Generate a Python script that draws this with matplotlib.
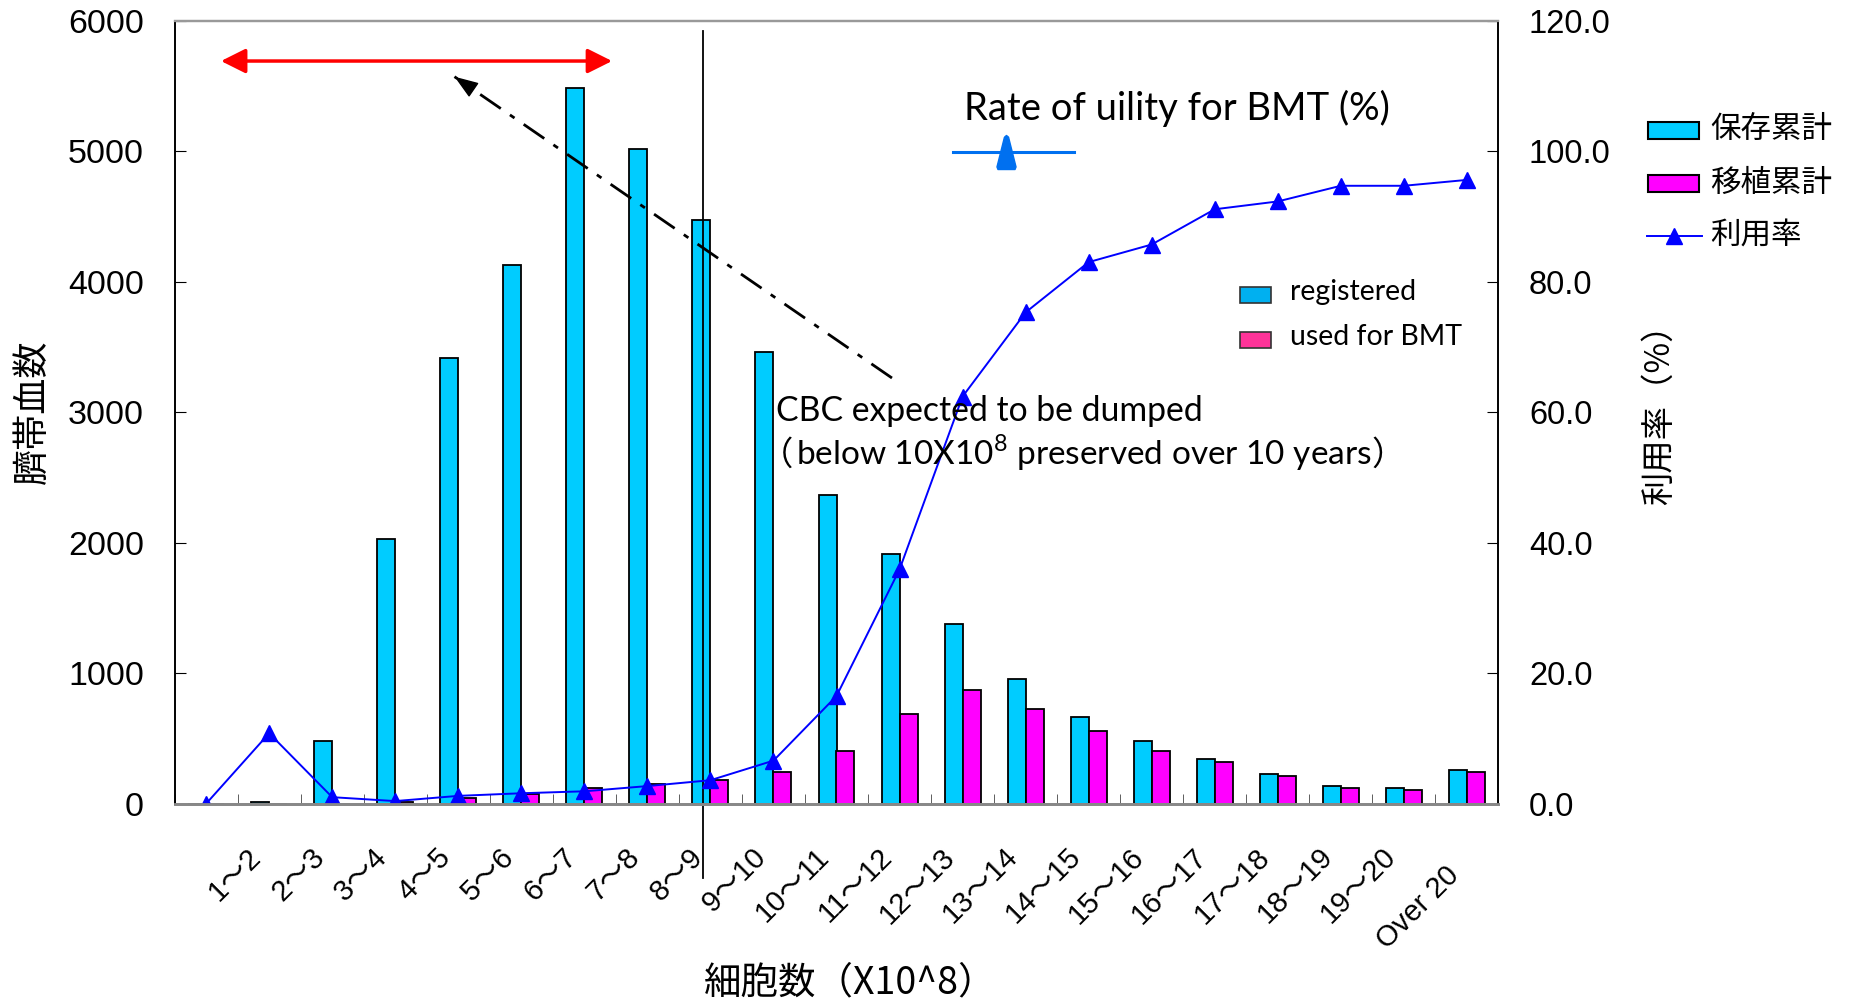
import matplotlib
matplotlib.use("Agg")
import matplotlib.pyplot as plt
import matplotlib.transforms as mtransforms
from matplotlib.patches import Rectangle
from matplotlib.lines import Line2D
from matplotlib.path import Path
import numpy as np

W, H = 1850, 1000

categories = ["", "1～2", "2～3", "3～4", "4～5", "5～6", "6～7", "7～8", "8～9", "9～10",
              "10～11", "11～12", "12～13", "13～14", "14～15", "15～16", "16～17",
              "17～18", "18～19", "19～20", "Over 20"]
stored = [0, 15, 480, 2025, 3415, 4128, 5482, 5020, 4473, 3460, 2368, 1912,
          1378, 958, 662, 480, 343, 225, 138, 124, 258]
transplanted = [0, 0, 0, 12, 45, 75, 118, 150, 180, 242, 403, 689, 868, 722,
                557, 405, 316, 211, 122, 108, 243]
use_rate = [0.0, 10.8, 1.0, 0.4, 1.2, 1.6, 1.9, 2.7, 3.6, 6.6, 16.5, 35.9,
            62.4, 75.3, 83.0, 85.7, 91.1, 92.3, 94.7, 94.7, 95.6]
left_ticks = [0, 1000, 2000, 3000, 4000, 5000, 6000]
right_ticks = [0, 20, 40, 60, 80, 100, 120]

plt.rcParams['font.family'] = ['Liberation Sans', 'Noto Sans CJK JP', 'DejaVu Sans']
plt.rcParams['mathtext.fontset'] = 'custom'
plt.rcParams['mathtext.rm'] = 'Lato'
JP = ['Noto Sans CJK JP', 'DejaVu Sans']
EN = ['Lato', 'Noto Sans CJK JP', 'DejaVu Sans']


def fx(px):
    return px / W


def fy(py):
    return 1 - py / H


fig = plt.figure(figsize=(18.5, 10), dpi=100)
ax = fig.add_axes([fx(174.6), fy(803.7), 1323.8 / W, 783 / H])
ax2 = ax.twinx()

x = np.arange(len(categories))
bw = 0.285
ax.bar(x - bw / 2, stored, bw, color='#00CCFF', edgecolor='black', linewidth=1.3)
ax.bar(x + bw / 2, transplanted, bw, color='#FF00FF', edgecolor='black', linewidth=1.3)
ax2.plot(x, use_rate, color='#0000FF', lw=1.4, marker='^', markersize=11.5)

ax.set_xlim(-0.5, len(categories) - 0.5)
ax.set_ylim(0, 6000)
ax2.set_ylim(0, 120)

# category labels under the centres, small tick marks on the boundaries
ax.set_xticks(x)
ax.set_xticklabels(categories, rotation=45, ha='right', va='top',
                   rotation_mode='anchor', fontsize=21)
ax.set_xticks(np.arange(-0.5, len(categories), 1), minor=True)
ax.tick_params(axis='x', which='major', length=0, pad=28)
ax.tick_params(axis='x', which='minor', direction='in', length=7, color='#444444')
shift = mtransforms.ScaledTranslation(-22 / 100, 0, fig.dpi_scale_trans)
last_shift = mtransforms.ScaledTranslation(0, -18 / 100, fig.dpi_scale_trans)
labels = ax.get_xticklabels()
for lbl in labels:
    lbl.set_transform(lbl.get_transform() + shift)
labels[-1].set_transform(labels[-1].get_transform() + last_shift)

ax.set_yticks(left_ticks)
ax.tick_params(axis='y', direction='in', length=8, labelsize=24.5, pad=22)
ax2.set_yticks(right_ticks)
ax2.set_yticklabels(["{:.1f}".format(v) for v in right_ticks])
ax2.tick_params(axis='y', direction='in', length=8, labelsize=23.5, pad=22)

for a in (ax, ax2):
    a.spines['top'].set_color('#999999')
    a.spines['top'].set_linewidth(1.6)
    a.spines['bottom'].set_color('#888888')
    a.spines['bottom'].set_linewidth(2.0)
    a.spines['left'].set_linewidth(1.2)
    a.spines['right'].set_linewidth(1.2)

ax.set_ylabel("臍帯血数", fontsize=26, family=JP, va='center')
ax.yaxis.set_label_coords(-0.107, 0.5)
ax2.set_ylabel("利用率（%）", fontsize=24, family=JP, va='center')
ax2.yaxis.set_label_coords(1.122, 0.508)
ax.set_xlabel("細胞数（X10^8）", fontsize=27, family=JP, va='center')
ax.xaxis.set_label_coords(0.51, -0.229)

# red range arrow and the dash-dot pointer
ax.annotate("", xy=(6.44, 5691), xytext=(0.236, 5691),
            arrowprops=dict(arrowstyle='<|-|>,head_length=0.6,head_width=0.3',
                            color='red', lw=2.5, mutation_scale=25,
                            shrinkA=0, shrinkB=0))
tip = (3.94, 5571)
tail = (10.88, 3262)
ax.plot([tail[0], tip[0]], [tail[1], tip[1]], color='black', lw=2,
        linestyle=(0, (9, 4, 2, 4)))
near = (tip[0] + 0.04 * (tail[0] - tip[0]), tip[1] + 0.04 * (tail[1] - tip[1]))
ax.annotate("", xy=tip, xytext=near,
            arrowprops=dict(arrowstyle='-|>,head_length=0.5,head_width=0.18',
                            color='black', lw=1, mutation_scale=30,
                            shrinkA=0, shrinkB=0))

ax.plot([7.88, 7.88], [-0.095, 0.987], transform=ax.get_xaxis_transform(),
        color='black', lw=1.3, clip_on=False)

# annotations
fig.text(fx(964), fy(120), "Rate of uility for BMT (%)", fontsize=27.5,
         family=EN, va='baseline')
bullet = Path([(-0.12, 0.9), (0, 1), (0.12, 0.9), (0.56, -0.85), (0.5, -1),
               (-0.5, -1), (-0.56, -0.85), (-0.12, 0.9)])
fig.add_artist(Line2D([fx(953), fx(1074)], [fy(152), fy(152)], color='#0070F0', lw=2.2))
fig.add_artist(Line2D([fx(1006)], [fy(152)], marker=bullet, markersize=24.5,
                      color='#0070F0', linestyle=''))

fig.text(fx(776), fy(421), "CBC expected to be dumped", fontsize=24.3,
         family=EN, va='baseline')
fig.text(fx(760), fy(465), "（", fontsize=24, family=JP, va='baseline')
body = fig.text(fx(796), fy(465), "below 10X10$^{8}$ preserved over 10 years",
                fontsize=24, family=EN, va='baseline')
ax.annotate("）", xy=(1, 0), xycoords=body, xytext=(0, 0), textcoords='offset points',
            fontsize=24, family=JP, ha='left', va='bottom', annotation_clip=False)

# small legend inside the plot
for py, col, txt in [(287, '#00B0F0', 'registered'), (332, '#FF3399', 'used for BMT')]:
    fig.add_artist(Rectangle((fx(1240), fy(py + 16)), 31 / W, 16 / H,
                             facecolor=col, edgecolor='#333333', lw=1.2))
    fig.text(fx(1290), fy(py + 5), txt, fontsize=20.5, family=EN, va='center')

# legend to the right
for py, col, txt in [(122, '#00CCFF', '保存累計'), (175, '#FF00FF', '移植累計')]:
    fig.add_artist(Rectangle((fx(1648), fy(py + 17)), 51 / W, 17 / H,
                             facecolor=col, edgecolor='black', lw=1.5))
    fig.text(fx(1710), fy(py + 8), txt, fontsize=22, family=JP, va='center')
fig.add_artist(Line2D([fx(1647), fx(1702)], [fy(236), fy(236)], color='#0000FF', lw=1.4))
fig.add_artist(Line2D([fx(1674)], [fy(236)], color='#0000FF', marker='^',
                      markersize=11.5, linestyle=''))
fig.text(fx(1710), fy(235), "利用率", fontsize=22, family=JP, va='center')

fig.savefig("out.png", dpi=100, facecolor='white')
